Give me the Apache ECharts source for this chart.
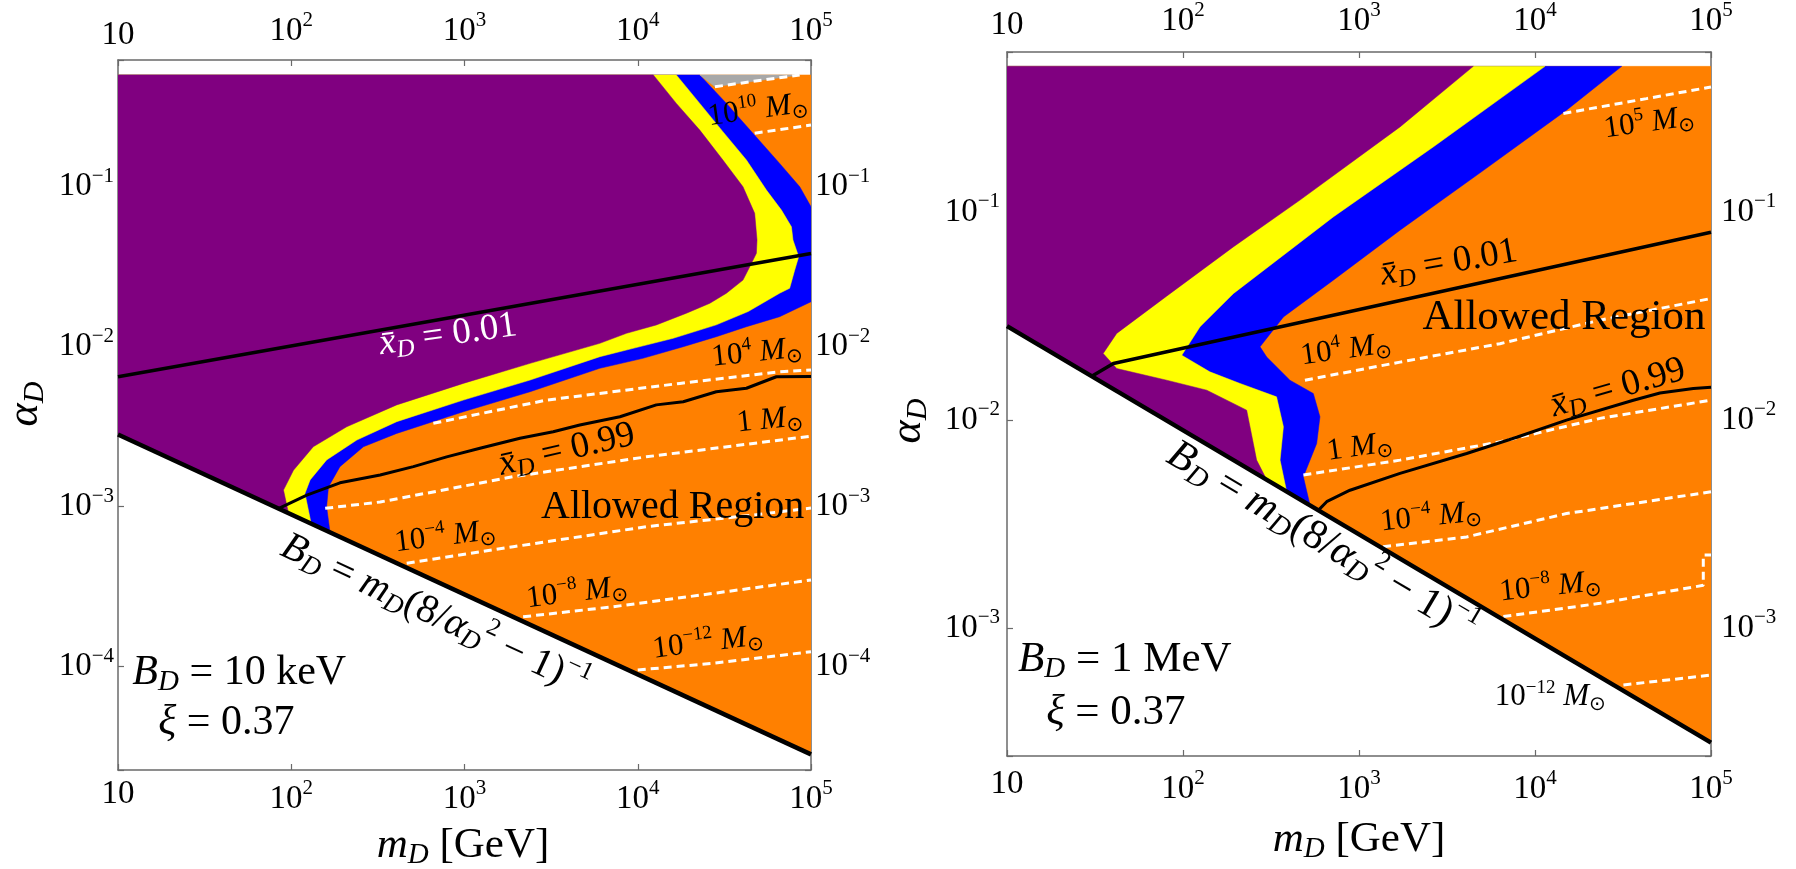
<!DOCTYPE html>
<html><head><meta charset="utf-8">
<script src="https://cdn.jsdelivr.net/npm/echarts@6/dist/echarts.min.js"></script>
<style>html,body{margin:0;padding:0;background:#fff}#c{width:1796px;height:869px}</style>
</head><body><div id="c"></div>
<script>
// ================= DATA =================
// axis ranges  [m_D in GeV], [alpha_D]
const xRange = [10, 1e5];
const yRangeL = [2.26e-5, 0.62];
const yRangeR = [2.44e-4, 0.586];
const alphaTop = 0.5;           // upper edge of the computed region
const xTickVals = [10, 1e2, 1e3, 1e4, 1e5];
const yTickValsL = [1e-4, 1e-3, 1e-2, 1e-1];
const yTickValsR = [1e-3, 1e-2, 1e-1];

// ---- left panel : B_D = 10 keV ----
const L_bd = [[10, 2.83e-3], [1e5, 2.83e-5]];
const L_purpleEdge = [[1.23e4,0.5],[1.67e4,0.332],[2.28e4,0.226],[3.1e4,0.147],[4.05e4,0.1],[4.73e4,0.0682],[4.88e4,0.0465],[4.84e4,0.0384],[4.43e4,0.0316],[4.05e4,0.0261],[3.25e4,0.0216],[2.61e4,0.0187],[1.91e4,0.0162],[1.28e4,0.01368],[8610,0.01213],[6040,0.0105],[2390,7.87e-3],[984,5.9e-3],[406,4.33e-3],[209,3.16e-3],[134,2.37e-3],[103,1.69e-3],[90.2,1.27e-3],[96.4,9.11e-4]];
const L_yellowEdge = [[1.67e4,0.5],[2.28e4,0.332],[3.1e4,0.221],[4.24e4,0.147],[5.53e4,0.0954],[6.75e4,0.0715],[7.71e4,0.0562],[7.87e4,0.0465],[8.49e4,0.0365],[8.05e4,0.0301],[7.53e4,0.0232],[6.59e4,0.0216],[4.34e4,0.0166],[2.84e4,0.0137],[1.6e4,0.01129],[9400,9.77e-3],[6040,8.66e-3],[2390,6.19e-3],[984,4.64e-3],[406,3.4e-3],[239,2.61e-3],[160,1.96e-3],[128.5,1.47e-3],[120,1.21e-3],[130.3,7.84e-4]];
const L_blueEdge = [[2.28e4,0.5],[3.25e4,0.332],[4.62e4,0.216],[6.59e4,0.14],[8.61e4,0.1],[1e5,0.075],[1e5,0.0191],[6.59e4,0.0154],[4.24e4,0.01334],[2.84e4,0.01155],[1.83e4,0.01],[1.07e4,8.46e-3],[6040,7.33e-3],[2390,5.23e-3],[984,3.92e-3],[406,2.87e-3],[261,2.37e-3],[191,1.78e-3],[164,1.33e-3],[160,1e-3],[167.5,6.91e-4]];
const L_gray = [[2.28e4,0.5],[2.79e4,0.422],[8.6e4,0.5]];
const L_xd001 = [[10,6.49e-3],[1e5,0.0383]];
const L_xd099 = [[84.3,9.74e-4],[123,1.18e-3],[191,1.41e-3],[326,1.58e-3],[507,1.78e-3],[789,2.05e-3],[1228,2.32e-3],[2090,2.68e-3],[3250,2.94e-3],[4630,3.24e-3],[7890,3.65e-3],[1.28e4,4.33e-3],[1.83e4,4.53e-3],[2.84e4,5.23e-3],[4.24e4,5.5e-3],[6.31e4,6.49e-3],[1e5,6.52e-3]];
const L_mTop = [[2.79e4,0.422],[8.6e4,0.5]];
const L_m1e10 = [[4.73e4,0.216],[1e5,0.243]];
const L_m1e4 = [[661,3.32e-3],[2980,4.64e-3],[1.75e4,5.9e-3],[6.59e4,6.98e-3],[1e5,7.15e-3]];
const L_m1 = [[157,9.77e-4],[326,1.07e-3],[1910,1.54e-3],[1.12e4,2.05e-3],[1e5,2.76e-3]];
const L_m1em4 = [[464,4.43e-4],[1910,5.62e-4],[1.12e4,7.5e-4],[4.62e4,8.87e-4],[1e5,9.8e-4]];
const L_m1em8 = [[2180,2.05e-4],[7210,2.37e-4],[2.72e4,2.87e-4],[1e5,3.48e-4]];
const L_m1em12 = [[1e4,9.53e-5],[2.72e4,1.05e-4],[1e5,1.24e-4]];

// ---- right panel : B_D = 1 MeV ----
const R_bd = [[10, 0.0283], [1e5, 2.83e-4]];
const R_purpleEdge = [[4460,0.5],[1710,0.256],[462,0.114],[193,0.0679],[80.7,0.0394],[42,0.0261],[35.2,0.0209],[42,0.0177],[80.7,0.01556],[136.5,0.01393],[230,0.01117],[251,7.73e-3],[262,6.43e-3],[299,5.17e-3]];
const R_yellowEdge = [[1.14e4,0.5],[2640,0.205],[714,0.0946],[193,0.0405],[125,0.0281],[98.4,0.0205],[142,0.01706],[211,0.015],[340,0.01294],[372,9.29e-3],[356,6.43e-3],[388,4.54e-3]];
const R_blueEdge = [[3.11e4,0.5],[1.51e4,0.308],[5080,0.158],[1710,0.0817],[714,0.047],[372,0.0313],[274,0.0225],[299,0.0201],[405,0.01556],[550,0.01343],[600,0.01038],[575,7.73e-3],[483,5.35e-3],[527,3.9e-3]];
const R_xd001 = [[30.3,0.01625],[40.2,0.0187],[1e5,0.0799]];
const R_xd099 = [[587,3.69e-3],[655,4.06e-3],[889,4.61e-3],[1710,5.55e-3],[4090,6.92e-3],[7870,8.28e-3],[1.51e4,0.01],[3.62e4,0.01247],[5.13e4,0.0135],[7.94e4,0.0142],[1e5,0.0144]];
const R_m1e5 = [[1.45e4,0.297],[4.3e4,0.35],[1e5,0.398]];
const R_m1e4 = [[493,0.01556],[1710,0.019],[6320,0.0233],[2.34e4,0.0302],[1e5,0.0384]];
const R_m1 = [[483,5.45e-3],[1710,6.43e-3],[6320,7.87e-3],[2.34e4,0.0102],[1e5,0.01247]];
const R_m1em4 = [[1370,2.47e-3],[4090,2.75e-3],[1.51e4,3.56e-3],[1e5,4.53e-3]];
const R_m1em8 = [[6610,1.14e-3],[2.34e4,1.32e-3],[9.04e4,1.61e-3],[9.04e4,2.25e-3],[1e5,2.25e-3]];
const R_m1em12 = [[3.18e4,5.35e-4],[1e5,5.97e-4]];

// ---- annotation texts ----
const BD_TXT = '{i|B}{s|D}{n| = }{i|m}{s|D}{n|(8/}{i|α}{s|D}{p|2}{n| − 1)}{p|−1}';
const L_labels = [
  {t:'{n|10}{p|10}{n| }{i|M}{o|⊙}', m:4.93e4, a:0.301, r:8, s:31},
  {t:'{i|x̄}{s|D}{n| = 0.01}', m:804, a:0.01183, r:8, s:37, c:'#fff'},
  {t:'{n|10}{p|4}{n| }{i|M}{o|⊙}', m:4.87e4, a:9.14e-3, r:6, s:31},
  {t:'{n|1 }{i|M}{o|⊙}', m:5.78e4, a:3.48e-3, r:6, s:31},
  {t:'{i|x̄}{s|D}{n| = 0.99}', m:3900, a:2.26e-3, r:13, s:37},
  {t:'{n|Allowed Region}', m:1.59e4, a:9.82e-4, r:0, s:40},
  {t:'{n|10}{p|−4}{n| }{i|M}{o|⊙}', m:773, a:6.47e-4, r:7, s:31},
  {t:'{n|10}{p|−8}{n| }{i|M}{o|⊙}', m:4460, a:2.89e-4, r:7, s:31},
  {t:'{n|10}{p|−12}{n| }{i|M}{o|⊙}', m:2.54e4, a:1.41e-4, r:7, s:31},
  {t:BD_TXT, m:676, a:2.1e-4, r:-24.9, s:40},
  {t:'{i|B}{s|D}{n| = 10 keV}', m:12.1, a:9.14e-5, r:0, s:42, al:'left'},
  {t:'{i|ξ}{n| = 0.37}', m:17.1, a:4.45e-5, r:0, s:42, al:'left'}
];
const R_labels = [
  {t:'{n|10}{p|5}{n| }{i|M}{o|⊙}', m:4.45e4, a:0.267, r:8, s:31},
  {t:'{i|x̄}{s|D}{n| = 0.01}', m:3240, a:0.0568, r:10, s:37},
  {t:'{n|Allowed Region}', m:1.46e4, a:0.0309, r:0, s:43},
  {t:'{n|10}{p|4}{n| }{i|M}{o|⊙}', m:843, a:0.0217, r:8, s:31},
  {t:'{i|x̄}{s|D}{n| = 0.99}', m:2.96e4, a:0.01426, r:16, s:37},
  {t:'{n|1 }{i|M}{o|⊙}', m:1010, a:7.41e-3, r:8, s:31},
  {t:'{n|10}{p|−4}{n| }{i|M}{o|⊙}', m:2560, a:3.42e-3, r:6, s:31},
  {t:'{n|10}{p|−8}{n| }{i|M}{o|⊙}', m:1.22e4, a:1.58e-3, r:6, s:31},
  {t:'{n|10}{p|−12}{n| }{i|M}{o|⊙}', m:1.22e4, a:4.68e-4, r:0, s:31},
  {t:BD_TXT, m:617, a:2.62e-3, r:-30.6, s:42},
  {t:'{i|B}{s|D}{n| = 1 MeV}', m:11.55, a:7.05e-4, r:0, s:43, al:'left'},
  {t:'{i|ξ}{n| = 0.37}', m:16.7, a:3.96e-4, r:0, s:43, al:'left'}
];

// ================= CHART =================
const FONT = "'Liberation Serif','DejaVu Serif',serif";
const C = {purple:'#800080', yellow:'#ffff00', blue:'#0000ff', orange:'#ff8000', gray:'#a8a8a8', axis:'#6a6a6a'};

function rich(S, color) {
  const mk = (o) => Object.assign({fontFamily: FONT, color: color, fill: color}, o);
  return {
    n: mk({fontSize: S}),
    i: mk({fontSize: S, fontStyle: 'italic'}),
    s: mk({fontSize: Math.round(S*0.68), fontStyle: 'italic', padding: [Math.round(S*0.45),0,0,0]}),
    p: mk({fontSize: Math.round(S*0.62), padding: [0,0,Math.round(S*0.62),0]}),
    o: Object.assign(mk({fontSize: Math.round(S*0.66), padding: [Math.round(S*0.5),0,0,0]}), {fontFamily: "'DejaVu Sans',sans-serif"})
  };
}

function powLabel(list) {
  return function (v) {
    const e = Math.log10(v), r = Math.round(e);
    if (Math.abs(e - r) > 1e-6) return '';
    if (!list.some(t => Math.abs(Math.log10(t) - r) < 1e-6)) return '';
    if (r === 1) return '{b|10}';
    return '{b|10}{p|' + (r < 0 ? '−' : '') + Math.abs(r) + '}';
  };
}
const tickRich = {
  b: {fontFamily: FONT, fontSize: 33, color: '#000'},
  p: {fontFamily: FONT, fontSize: 21, color: '#000', padding: [0,0,21,0]}
};

function axisCommon(min, max, labels, margin) {
  return {
    type: 'log', logBase: 10, min: min, max: max,
    axisLine: {show: true, onZero: false, lineStyle: {color: C.axis, width: 1.5}},
    axisTick: {show: true, inside: true, length: 6, lineStyle: {color: C.axis, width: 1.2}},
    minorTick: {show: false}, splitLine: {show: false}, minorSplitLine: {show: false},
    axisLabel: {show: true, margin: margin, formatter: powLabel(labels), rich: tickRich, color: '#000', showMinLabel: true, showMaxLabel: true}
  };
}
function xAx(grid, pos, margin) {
  return Object.assign(axisCommon(xRange[0], xRange[1], xTickVals, margin), {gridIndex: grid, position: pos});
}
function yAx(grid, pos, range, labels, margin) {
  return Object.assign(axisCommon(range[0], range[1], labels, margin), {gridIndex: grid, position: pos});
}

function poly(xi, yi, pts, color, z) {
  return {
    type: 'custom', coordinateSystem: 'cartesian2d', xAxisIndex: xi, yAxisIndex: yi,
    data: [pts[0]], z: z, silent: true, clip: true,
    renderItem: function (params, api) {
      return {type: 'polygon', shape: {points: pts.map(p => api.coord(p))}, style: {fill: color, stroke: color, lineWidth: 0.5}};
    }
  };
}
function region(edge, bd) {
  // edge from top down to the B_D line, then along the B_D line to m=10, then up to the top
  return edge.concat([bd[0], [xRange[0], alphaTop]]);
}
function line(xi, yi, pts, opts, z) {
  return {
    type: 'line', xAxisIndex: xi, yAxisIndex: yi, data: pts, showSymbol: false, symbol: 'none',
    silent: true, z: z || 5, clip: true,
    lineStyle: Object.assign({color: '#000', width: 2.5}, opts)
  };
}
const DASH = {color: '#fff', width: 3, type: [8, 5]};

function labelSeries(xi, yi, list) {
  return {
    type: 'custom', coordinateSystem: 'cartesian2d', xAxisIndex: xi, yAxisIndex: yi,
    data: list.map(l => [l.m, l.a]), z: 20, silent: true, clip: false,
    renderItem: function (params, api) {
      const l = list[params.dataIndex];
      const p = api.coord([l.m, l.a]);
      const col = l.c || '#000';
      return {
        type: 'text', x: p[0], y: p[1], rotation: l.r * Math.PI / 180,
        style: {text: l.t, rich: rich(l.s, col), fill: col, align: l.al || 'center', verticalAlign: 'middle', fontFamily: FONT, fontSize: l.s}
      };
    }
  };
}

function panel(xi, yi, d) {
  const s = [];
  s.push(poly(xi, yi, [d.bd[0], d.bd[1], [xRange[1], alphaTop], [xRange[0], alphaTop]], C.orange, 1));
  s.push(poly(xi, yi, region(d.blue, d.bd), C.blue, 2));
  s.push(poly(xi, yi, region(d.yellow, d.bd), C.yellow, 3));
  s.push(poly(xi, yi, region(d.purple, d.bd), C.purple, 4));
  if (d.gray) s.push(poly(xi, yi, d.gray, C.gray, 4));
  d.dashed.forEach(c => s.push(line(xi, yi, c, DASH, 6)));
  s.push(line(xi, yi, d.xd001, {width: 3.5}, 7));
  s.push(line(xi, yi, d.xd099, {width: 3}, 7));
  s.push(line(xi, yi, d.bd, {width: 4.5}, 8));
  s.push(labelSeries(xi, yi, d.labels));
  return s;
}

const series = [].concat(
  panel(0, 0, {bd: L_bd, blue: L_blueEdge, yellow: L_yellowEdge, purple: L_purpleEdge, gray: L_gray,
    dashed: [L_mTop, L_m1e10, L_m1e4, L_m1, L_m1em4, L_m1em8, L_m1em12], xd001: L_xd001, xd099: L_xd099, labels: L_labels}),
  panel(2, 2, {bd: R_bd, blue: R_blueEdge, yellow: R_yellowEdge, purple: R_purpleEdge,
    dashed: [R_m1e5, R_m1e4, R_m1, R_m1em4, R_m1em8, R_m1em12], xd001: R_xd001, xd099: R_xd099, labels: R_labels})
);

const titleRich = rich(43, '#000');
const option = {
  animation: false,
  backgroundColor: '#fff',
  grid: [
    {left: 118, top: 60, width: 693, height: 710, containLabel: false, outerBoundsMode: 'none'},
    {left: 1007, top: 52, width: 704, height: 704, containLabel: false, outerBoundsMode: 'none'}
  ],
  xAxis: [xAx(0, 'bottom', 8), xAx(0, 'top', 8), xAx(1, 'bottom', 12), xAx(1, 'top', 10)],
  yAxis: [yAx(0, 'left', yRangeL, yTickValsL, 4), yAx(0, 'right', yRangeL, yTickValsL, 4),
          yAx(1, 'left', yRangeR, yTickValsR, 7), yAx(1, 'right', yRangeR, yTickValsR, 10)],
  series: series,
  graphic: [
    {type: 'text', x: 463, y: 846, style: {text: '{i|m}{s|D}{n| [GeV]}', rich: titleRich, align: 'center', verticalAlign: 'middle'}},
    {type: 'text', x: 1359, y: 840, style: {text: '{i|m}{s|D}{n| [GeV]}', rich: titleRich, align: 'center', verticalAlign: 'middle'}},
    {type: 'text', x: 25, y: 404, rotation: Math.PI / 2, style: {text: '{i|α}{s|D}', rich: rich(44, '#000'), align: 'center', verticalAlign: 'middle'}},
    {type: 'text', x: 908, y: 421, rotation: Math.PI / 2, style: {text: '{i|α}{s|D}', rich: rich(44, '#000'), align: 'center', verticalAlign: 'middle'}}
  ]
};
const chart = echarts.init(document.getElementById('c'), null, {renderer: 'canvas'});
chart.setOption(option);
</script></body></html>
